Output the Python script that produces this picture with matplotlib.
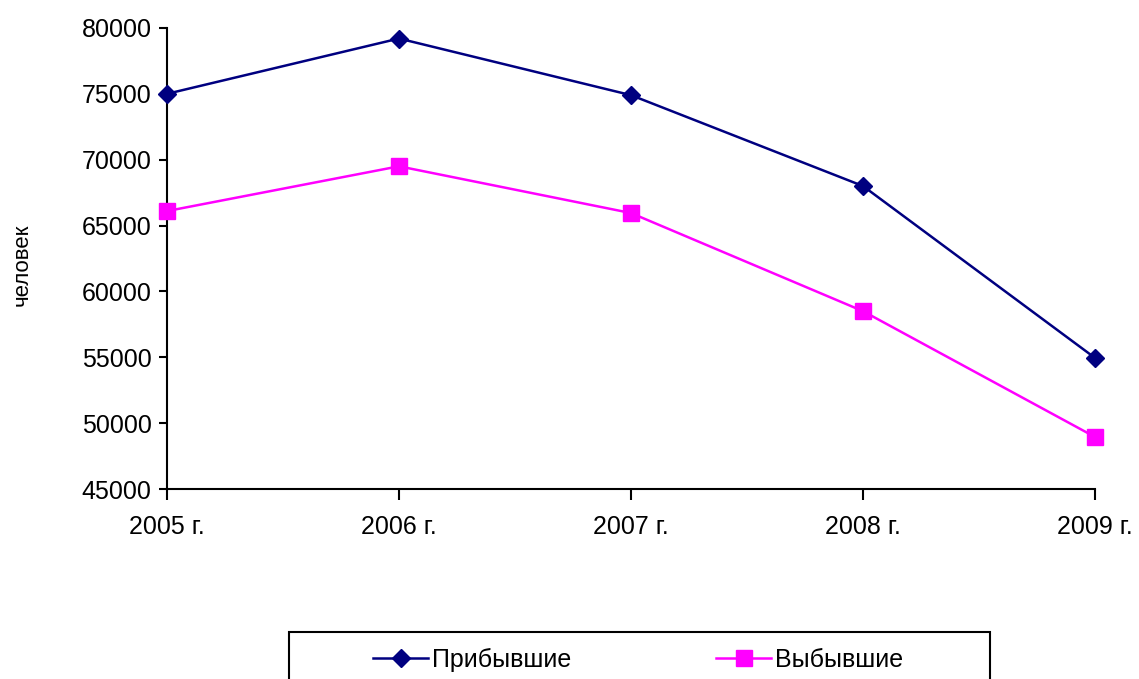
import matplotlib.pyplot as plt
from matplotlib.patches import Rectangle
from matplotlib.ticker import MultipleLocator

plt.rcParams['font.family'] = ['Liberation Sans', 'DejaVu Sans']

years = ["2005 г.", "2006 г.", "2007 г.", "2008 г.", "2009 г."]
arrived = [75000, 79200, 74900, 68000, 54950]
departed = [66100, 69500, 65950, 58500, 48950]

W, H = 1139, 679
fig = plt.figure(figsize=(W / 100, H / 100), dpi=100)
ax = fig.add_axes([0.1466, 0.2798, 0.8148, 0.679])

x = range(len(years))
ax.plot(x, arrived, color="#000080", lw=1.8, marker="D", markersize=9,
        label="Прибывшие", clip_on=False, zorder=3)
ax.plot(x, departed, color="#FF00FF", lw=1.8, marker="s", markersize=12,
        label="Выбывшие", clip_on=False, zorder=3)

ax.set_xlim(0, len(years) - 1)
ax.set_ylim(45000, 80000)
ax.yaxis.set_major_locator(MultipleLocator(5000))
ax.set_xticks(list(x))
ax.set_xticklabels(years)

for side in ["top", "right"]:
    ax.spines[side].set_visible(False)
for side in ["left", "bottom"]:
    ax.spines[side].set_linewidth(1.5)

ax.tick_params(axis="y", direction="out", length=6, width=1.5, labelsize=18, pad=5)
ax.tick_params(axis="x", direction="out", length=8, width=1.5, labelsize=18, pad=11)

fig.text(0.019, 0.61, "человек", rotation=90, fontsize=16, ha="center", va="center")

# legend frame (runs off the bottom edge, as in the original)
fig.patches.append(Rectangle((289 / W, -0.02), 701 / W, (679 - 632) / H + 0.02,
                             transform=fig.transFigure, fill=False,
                             edgecolor="black", lw=1.5))
fig.legend(loc="center", bbox_to_anchor=(638 / W, 1 - 660 / H), ncol=2,
           fontsize=18, frameon=False, handlelength=2.2, handletextpad=0.15,
           columnspacing=5.8, borderaxespad=0)

fig.savefig("out.png", dpi=100)
